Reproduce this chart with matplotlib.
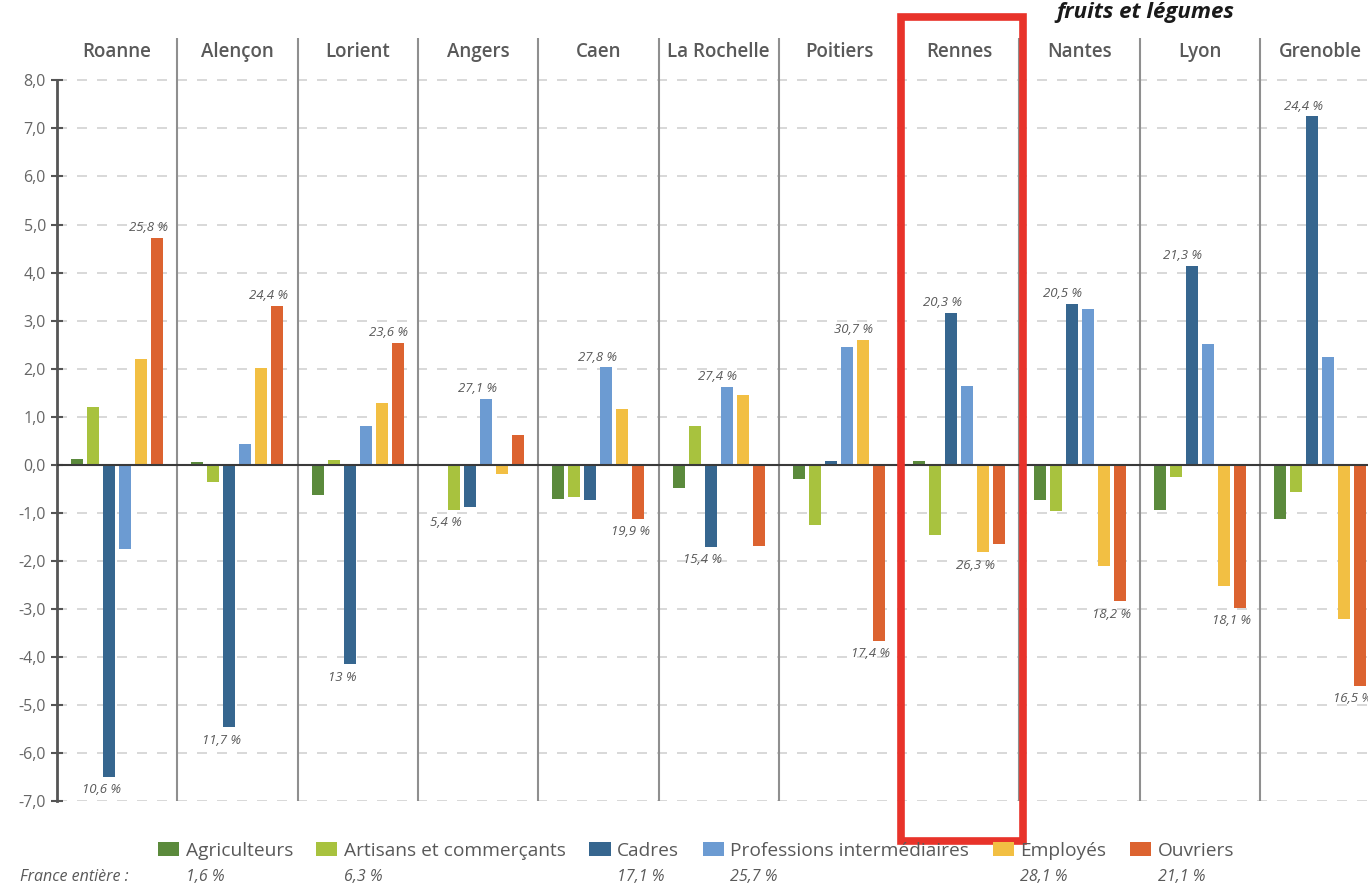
import numpy as np
import matplotlib.pyplot as plt
import matplotlib.transforms as mtransforms
from matplotlib.patches import Rectangle

plt.rcParams['font.family'] = ['Open Sans', 'DejaVu Sans']

cities = ['Roanne', 'Alençon', 'Lorient', 'Angers', 'Caen', 'La Rochelle',
          'Poitiers', 'Rennes', 'Nantes', 'Lyon', 'Grenoble']
groups = ['Agriculteurs', 'Artisans et commerçants', 'Cadres',
          'Professions intermédiaires', 'Employés', 'Ouvriers']
france = ['1,6 %', '6,3 %', '17,1 %', '25,7 %', '28,1 %', '21,1 %']

# gap (in points) to the national share, per city
agriculteurs = [0.12, 0.05, -0.64, 0.0, -0.71, -0.49, -0.30, 0.07, -0.73, -0.94, -1.14]
artisans = [1.20, -0.36, 0.10, -0.94, -0.67, 0.80, -1.25, -1.46, -0.97, -0.26, -0.57]
cadres = [-6.50, -5.46, -4.15, -0.89, -0.73, -1.71, 0.07, 3.16, 3.35, 4.14, 7.25]
prof_inter = [-1.75, 0.44, 0.80, 1.37, 2.03, 1.62, 2.45, 1.63, 3.24, 2.51, 2.25]
employes = [2.20, 2.01, 1.28, -0.19, 1.16, 1.46, 2.60, -1.82, -2.10, -2.52, -3.22]
ouvriers = [4.72, 3.31, 2.54, 0.61, -1.12, -1.70, -3.66, -1.65, -2.84, -2.98, -4.60]

# local shares written above the highest bar / below the lowest bar
top_series = [5, 5, 5, 3, 3, 3, 4, 2, 2, 2, 2]
top_text = ['25,8 %', '24,4 %', '23,6 %', '27,1 %', '27,8 %', '27,4 %',
            '30,7 %', '20,3 %', '20,5 %', '21,3 %', '24,4 %']
bottom_series = [2, 2, 2, 1, 5, 2, 5, 4, 5, 5, 5]
bottom_text = ['10,6 %', '11,7 %', '13 %', '5,4 %', '19,9 %', '15,4 %',
               '17,4 %', '26,3 %', '18,2 %', '18,1 %', '16,5 %']

yticks = list(range(-7, 9))

colors = ['#5B8A3C', '#A8C23E', '#36668F', '#6C9BD2', '#F2BF43', '#DC6330']
series = [agriculteurs, artisans, cadres, prof_inter, employes, ouvriers]
grey = '#595959'

W, H = 1368, 884
fig = plt.figure(figsize=(W / 100, H / 100), dpi=100)
ax = fig.add_axes([57 / W, 1 - 801 / H, 1 - 57 / W, (801 - 38) / H])

x = np.arange(len(cities))
step, width = 0.133, 0.1
offsets = (np.arange(len(groups)) - 2.5) * step
for vals, off, c, name in zip(series, offsets, colors, groups):
    ax.bar(x + off, vals, width, color=c, label=name, zorder=3)

ax.set_xlim(-0.5, -0.5 + (W - 57) / 120.3)
ax.set_ylim(-7, 8.883)

# separators between cities
for k in range(1, len(cities)):
    ax.axvline(k - 0.5, color='#8f8f8f', lw=1.5, zorder=2)

ax.set_yticks(yticks)
ax.set_yticklabels([f'{v:.1f}'.replace('.', ',') for v in yticks])
ax.grid(axis='y', ls=(0, (6, 6)), color='#d2d2d2', lw=1.2, zorder=1)
ax.axhline(0, color='#3a3a3a', lw=1.5, zorder=4)

for s in ['top', 'right', 'bottom']:
    ax.spines[s].set_visible(False)
ax.spines['left'].set_bounds(-7, 8)
ax.spines['left'].set_color('#555555')
ax.spines['left'].set_linewidth(2)
ax.set_xticks([])
ax.tick_params(axis='y', direction='inout', length=8, width=1.5, color='#555555',
               labelsize=11.5, labelcolor='#666666', pad=4)

for i, city in enumerate(cities):
    ax.text(i, 8.59, city, ha='center', va='center', fontsize=13.5,
            fontweight='semibold', color=grey)

for i in range(len(cities)):
    s = top_series[i]
    ax.annotate(top_text[i], (x[i] + offsets[s], series[s][i]), xytext=(-9, 10),
                textcoords='offset pixels', ha='center', va='center',
                fontsize=9.5, style='italic', color=grey, annotation_clip=False)
    s = bottom_series[i]
    ax.annotate(bottom_text[i], (x[i] + offsets[s], series[s][i]), xytext=(-8, -13),
                textcoords='offset pixels', ha='center', va='center',
                fontsize=9.5, style='italic', color=grey, annotation_clip=False)

fig.text(1145 / W, 1 - 18 / H, 'fruits et légumes', ha='center', va='baseline',
         fontsize=16, fontweight='bold', style='italic', color='#1a1a1a')

# highlight Rennes
trans = mtransforms.blended_transform_factory(ax.transData, fig.transFigure)
rect = Rectangle((6.516, 1 - 841 / H), 7.53 - 6.516, (841 - 17) / H, fill=False,
                 edgecolor='#E8332A', lw=5.5, transform=trans, clip_on=False, zorder=10)
ax.add_patch(rect)

leg = fig.legend(loc='center', bbox_to_anchor=(696 / W, 1 - 851 / H), ncol=6,
                 frameon=False, fontsize=13.8, handlelength=1.1, handleheight=0.75,
                 handletextpad=0.35, columnspacing=1.22, labelcolor=grey,
                 borderaxespad=0, borderpad=0)

fig.canvas.draw()
renderer = fig.canvas.get_renderer()
inv = fig.transFigure.inverted()
for t, val in zip(leg.get_texts(), france):
    bb = t.get_window_extent(renderer)
    fx = inv.transform((bb.x0, 0))[0]
    fig.text(fx, 1 - 877 / H, val, ha='left', va='center', fontsize=11.5,
             style='italic', color=grey)
fig.text(20 / W, 1 - 877 / H, 'France entière :', ha='left', va='center',
         fontsize=11.5, style='italic', color=grey)

fig.savefig('out.png', dpi=100)
